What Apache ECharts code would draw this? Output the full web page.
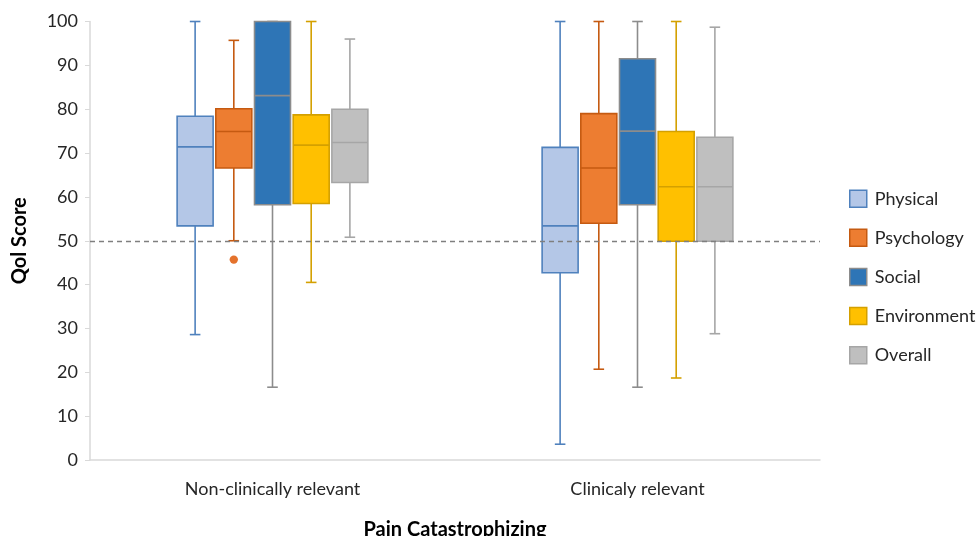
<!DOCTYPE html>
<html>
<head>
<meta charset="utf-8">
<script src="https://cdn.jsdelivr.net/npm/echarts@6/dist/echarts.min.js"></script>
<style>
  html,body{margin:0;padding:0;background:#fff;}
  #chart{width:978px;height:536px;}
</style>
</head>
<body>
<div id="chart"></div>
<script>
// 类别与系列
const categories = ['Non-clinically relevant', 'Clinicaly relevant']
const seriesNames = ['Physical', 'Psychology', 'Social', 'Environment', 'Overall']
const yTicks = [0, 10, 20, 30, 40, 50, 60, 70, 80, 90, 100]

// 每组箱线数据: [min, Q1, median, Q3, max]
const physical = [[28.6, 53.4, 71.4, 78.4, 100], [3.6, 42.7, 53.4, 71.3, 100]]
const psychology = [[50, 66.6, 74.9, 80.1, 95.7], [20.7, 54, 66.6, 79, 100]]
const social = [[16.6, 58.2, 83.1, 100, 100], [16.6, 58.2, 75, 91.5, 100]]
const environment = [[40.5, 58.5, 71.8, 78.7, 100], [18.7, 49.9, 62.3, 74.9, 100]]
const overall = [[50.8, 63.3, 72.4, 80, 96], [28.8, 49.9, 62.3, 73.6, 98.7]]
// 离群点: [类别序号, 值]
const psychologyOutliers = [[0, 45.7]]
const refLine = 50

const boxStats = [physical, psychology, social, environment, overall]
const outliers = [[], psychologyOutliers, [], [], []]
const fills = ['#B4C7E7', '#ED7D31', '#2E75B6', '#FFC000', '#BFBFBF']
const strokes = ['#4F81BD', '#C55A11', '#8C8C8C', '#D4A000', '#A6A6A6']

const font = 'Lato, "Open Sans", sans-serif'

function makeRender(idx) {
  return function (params, api) {
    const band = api.size([1, 0])[0]
    const offset = (idx - 2) * band * 0.106
    const half = band * 0.0493
    const cap = band * 0.0145
    const c = api.coord([api.value(0), 0])[0] + offset
    const y = i => api.coord([api.value(0), api.value(i)])[1]
    const lo = y(1), q1 = y(2), md = y(3), q3 = y(4), hi = y(5)
    const line = { stroke: strokes[idx], lineWidth: 1.6 }
    return {
      type: 'group',
      children: [
        { type: 'line', shape: { x1: c, y1: hi, x2: c, y2: q3 }, style: line },
        { type: 'line', shape: { x1: c, y1: q1, x2: c, y2: lo }, style: line },
        { type: 'line', shape: { x1: c - cap, y1: hi, x2: c + cap, y2: hi }, style: line },
        { type: 'line', shape: { x1: c - cap, y1: lo, x2: c + cap, y2: lo }, style: line },
        { type: 'rect', shape: { x: c - half, y: q3, width: half * 2, height: q1 - q3 },
          style: { fill: fills[idx], stroke: strokes[idx], lineWidth: 1.6 } },
        { type: 'line', shape: { x1: c - half, y1: md, x2: c + half, y2: md }, style: line }
      ]
    }
  }
}

function makeOutlierRender(idx) {
  return function (params, api) {
    const band = api.size([1, 0])[0]
    const offset = (idx - 2) * band * 0.106
    const p = api.coord([api.value(0), api.value(1)])
    return {
      type: 'circle',
      shape: { cx: p[0] + offset, cy: p[1], r: 4.2 },
      style: { fill: '#E4722C' }
    }
  }
}

const series = []
seriesNames.forEach((name, idx) => {
  series.push({
    name: name,
    type: 'custom',
    renderItem: makeRender(idx),
    encode: { x: 0, y: [1, 2, 3, 4, 5] },
    itemStyle: { color: fills[idx], borderColor: strokes[idx], borderWidth: 1.5 },
    data: boxStats[idx].map((s, i) => [i].concat(s)),
    z: 2
  })
  if (outliers[idx].length) {
    series.push({
      name: name,
      type: 'custom',
      renderItem: makeOutlierRender(idx),
      encode: { x: 0, y: 1 },
      itemStyle: { color: fills[idx] },
      data: outliers[idx],
      z: 2
    })
  }
})
// 50分参考线
series[0].markLine = {
  symbol: 'none',
  silent: true,
  label: { show: false },
  lineStyle: { type: [5, 4], color: '#7F7F7F', width: 1.3 },
  data: [{ yAxis: refLine }],
  z: 10
}

const chart = echarts.init(document.getElementById('chart'))
chart.setOption({
  animation: false,
  textStyle: { fontFamily: font },
  grid: { left: 90, right: 158, top: 21.5, bottom: 76, outerBoundsMode: 'none', containLabel: false },
  legend: {
    orient: 'vertical',
    left: 849,
    top: 189.5,
    padding: 0,
    itemWidth: 17,
    itemHeight: 17,
    itemGap: 20.6,
    icon: 'rect',
    textStyle: { fontSize: 18, color: '#262626', fontFamily: font, padding: [0, 0, 0, 3] },
    data: seriesNames.map((n, i) => ({
      name: n,
      itemStyle: { color: fills[i], borderColor: strokes[i], borderWidth: 1.5 }
    }))
  },
  xAxis: {
    type: 'category',
    data: categories,
    name: 'Pain Catastrophizing',
    nameLocation: 'middle',
    nameGap: 60,
    nameTextStyle: { fontSize: 20, fontWeight: 'bold', color: '#000', fontFamily: font },
    axisLine: { lineStyle: { color: '#D9D9D9', width: 1.5 } },
    axisTick: { show: false },
    axisLabel: { fontSize: 18, color: '#262626', margin: 20 },
    splitLine: { show: false }
  },
  yAxis: {
    type: 'value',
    min: yTicks[0],
    max: yTicks[yTicks.length - 1],
    interval: 10,
    name: 'Qol Score',
    nameLocation: 'middle',
    nameRotate: 90,
    nameGap: 60,
    nameTextStyle: { fontSize: 20, fontWeight: 'bold', color: '#000', fontFamily: font },
    axisLine: { show: true, lineStyle: { color: '#D9D9D9', width: 1.5 } },
    axisTick: { show: true, length: 5, lineStyle: { color: '#D9D9D9' } },
    axisLabel: { fontSize: 18, color: '#262626', margin: 12 },
    splitLine: { show: false }
  },
  series: series
})
</script>
</body>
</html>
